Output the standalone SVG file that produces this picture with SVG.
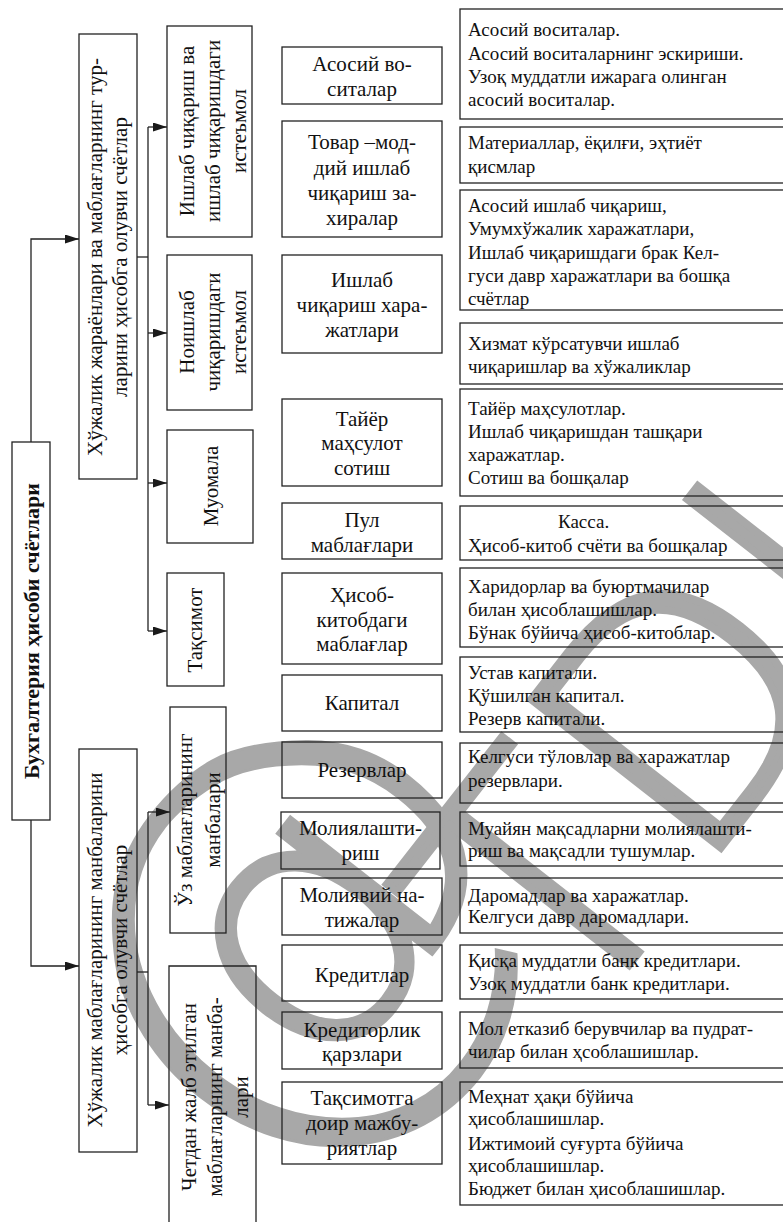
<svg xmlns="http://www.w3.org/2000/svg" width="783" height="1222" viewBox="0 0 783 1222">
<defs>
<marker id="ah" markerWidth="14" markerHeight="9" refX="14" refY="4.5" orient="auto" markerUnits="userSpaceOnUse"><path d="M0,0 L14,4.5 L0,9 z" fill="#1a1a1a"/></marker>
<style>
.b{fill:none;stroke:#222;stroke-width:1.3}
.c{fill:none;stroke:#222;stroke-width:1.3}
.m{font-family:"Liberation Serif","Times New Roman",serif;font-size:21px;fill:#111;text-anchor:middle}
.r{font-family:"Liberation Serif","Times New Roman",serif;font-size:19px;fill:#111}
.v{font-family:"Liberation Serif","Times New Roman",serif;font-size:21px;fill:#111;text-anchor:middle}
.root{font-family:"Liberation Serif","Times New Roman",serif;font-size:22px;font-weight:bold;fill:#111;text-anchor:middle}
.wm{font-family:"DejaVu Sans",sans-serif;font-weight:200;fill:#a8a8a8;stroke:#a8a8a8}
</style>
</defs>
<rect width="783" height="1222" fill="#fff"/>
<g id="watermark">
<text class="wm" font-size="470" stroke-width="3" transform="translate(264,1211) rotate(-52)">@</text>
<text class="wm" font-size="330" stroke-width="8" transform="translate(572,1038) rotate(-52)">TDI</text>
</g>

<g id="connectors">
<polyline class="c" points="31,442 31,239 79,239" marker-end="url(#ah)"/>
<polyline class="c" points="31,820 31,966 79,966" marker-end="url(#ah)"/>
<line class="c" x1="137" y1="257" x2="148" y2="257"/>
<line class="c" x1="148" y1="127" x2="148" y2="631"/>
<line class="c" x1="148" y1="127" x2="167" y2="127" marker-end="url(#ah)"/>
<line class="c" x1="148" y1="333" x2="167" y2="333" marker-end="url(#ah)"/>
<line class="c" x1="148" y1="483" x2="167" y2="483" marker-end="url(#ah)"/>
<line class="c" x1="148" y1="631" x2="167" y2="631" marker-end="url(#ah)"/>
<line class="c" x1="137" y1="972" x2="148" y2="972"/>
<line class="c" x1="148" y1="812" x2="148" y2="1105"/>
<line class="c" x1="148" y1="812" x2="170" y2="812" marker-end="url(#ah)"/>
<line class="c" x1="148" y1="1105" x2="169" y2="1105" marker-end="url(#ah)"/>
</g>

<g id="root"><rect class="b" x="12" y="442" width="38" height="378"/>
<text class="root" transform="translate(39,631) rotate(-90)">Бухгалтерия ҳисоби счётлари</text></g>

<g id="group1"><rect class="b" x="79" y="34" width="58" height="445"/>
<text class="v" transform="translate(102,257) rotate(-90)">Хўжалик жараёнлари ва маблағларнинг тур-</text>
<text class="v" transform="translate(127,257) rotate(-90)">ларини ҳисобга олувчи счётлар</text></g>

<g id="group2"><rect class="b" x="79" y="749" width="58" height="403"/>
<text class="v" transform="translate(102,950) rotate(-90)">Хўжалик маблағларининг манбаларини</text>
<text class="v" transform="translate(127,950) rotate(-90)">ҳисобга олувчи счётлар</text></g>

<g id="sub1"><rect class="b" x="167" y="26" width="85" height="211"/>
<text class="v" transform="translate(194,131) rotate(-90)">Ишлаб чиқариш ва</text>
<text class="v" transform="translate(220,131) rotate(-90)">ишлаб чиқаришдаги</text>
<text class="v" transform="translate(246,131) rotate(-90)">истеъмол</text></g>

<g id="sub2"><rect class="b" x="167" y="255" width="85" height="155"/>
<text class="v" transform="translate(194,332) rotate(-90)">Ноишлаб</text>
<text class="v" transform="translate(220,332) rotate(-90)">чиқаришдаги</text>
<text class="v" transform="translate(246,332) rotate(-90)">истеъмол</text></g>

<g id="sub3"><rect class="b" x="167" y="430" width="86" height="113"/>
<text class="v" transform="translate(218,486) rotate(-90)">Муомала</text></g>

<g id="sub4"><rect class="b" x="167" y="573" width="57" height="113"/>
<text class="v" transform="translate(202,630) rotate(-90)">Тақсимот</text></g>

<g id="sub5"><rect class="b" x="170" y="707" width="56" height="226"/>
<text class="v" transform="translate(192,820) rotate(-90)">Ўз маблағларининг</text>
<text class="v" transform="translate(220,820) rotate(-90)">манбалари</text></g>

<g id="sub6"><path class="b" d="M169,1230 V966 H256 V1230"/>
<text class="v" transform="translate(196,1097) rotate(-90)">Четдан жалб этилган</text>
<text class="v" transform="translate(222,1097) rotate(-90)">маблағларнинг манба-</text>
<text class="v" transform="translate(248,1097) rotate(-90)">лари</text></g>

<g id="m1"><rect class="b" x="282" y="47" width="160" height="57"/>
<text class="m" x="362" y="71">Асосий во-</text><text class="m" x="362" y="96">ситалар</text></g>
<g id="m2"><rect class="b" x="282" y="121" width="160" height="116"/>
<text class="m" x="362" y="149">Товар –мод-</text><text class="m" x="362" y="175">дий ишлаб</text><text class="m" x="362" y="200">чиқариш за-</text><text class="m" x="362" y="225">хиралар</text></g>
<g id="m3"><rect class="b" x="282" y="255" width="160" height="98"/>
<text class="m" x="362" y="287">Ишлаб</text><text class="m" x="362" y="312">чиқариш хара-</text><text class="m" x="362" y="337">жатлари</text></g>
<g id="m4"><rect class="b" x="282" y="399" width="160" height="87"/>
<text class="m" x="362" y="426">Тайёр</text><text class="m" x="362" y="450">маҳсулот</text><text class="m" x="362" y="475">сотиш</text></g>
<g id="m5"><rect class="b" x="282" y="503" width="160" height="56"/>
<text class="m" x="362" y="527">Пул</text><text class="m" x="362" y="552">маблағлари</text></g>
<g id="m6"><rect class="b" x="282" y="573" width="160" height="91"/>
<text class="m" x="362" y="602">Ҳисоб-</text><text class="m" x="362" y="627">китобдаги</text><text class="m" x="362" y="651">маблағлар</text></g>
<g id="m7"><rect class="b" x="282" y="675" width="160" height="56"/>
<text class="m" x="362" y="710">Капитал</text></g>
<g id="m8"><rect class="b" x="282" y="742" width="160" height="56"/>
<text class="m" x="362" y="777">Резервлар</text></g>
<g id="m9"><rect class="b" x="281" y="812" width="159" height="57"/>
<text class="m" x="360.5" y="835">Молиялашти-</text><text class="m" x="360.5" y="860">риш</text></g>
<g id="m10"><rect class="b" x="282" y="878" width="160" height="57"/>
<text class="m" x="362" y="902">Молиявий на-</text><text class="m" x="362" y="927">тижалар</text></g>
<g id="m11"><rect class="b" x="282" y="945" width="160" height="56"/>
<text class="m" x="362" y="982">Кредитлар</text></g>
<g id="m12"><rect class="b" x="282" y="1012" width="160" height="57"/>
<text class="m" x="362" y="1037">Кредиторлик</text><text class="m" x="362" y="1061">қарзлари</text></g>
<g id="m13"><rect class="b" x="282" y="1082" width="160" height="82"/>
<text class="m" x="362" y="1105">Тақсимотга</text><text class="m" x="362" y="1130">доир мажбу-</text><text class="m" x="362" y="1155">риятлар</text></g>

<g id="r1"><rect class="b" x="460" y="9" width="330" height="110"/>
<text class="r" x="468" y="36">Асосий воситалар.</text><text class="r" x="468" y="60">Асосий воситаларнинг эскириши.</text><text class="r" x="468" y="83">Узоқ муддатли ижарага олинган</text><text class="r" x="468" y="106">асосий воситалар.</text></g>
<g id="r2"><rect class="b" x="460" y="127" width="330" height="56"/>
<text class="r" x="468" y="149">Материаллар, ёқилғи, эҳтиёт</text><text class="r" x="468" y="173">қисмлар</text></g>
<g id="r3"><rect class="b" x="460" y="190" width="330" height="120"/>
<text class="r" x="468" y="212">Асосий ишлаб чиқариш,</text><text class="r" x="468" y="235">Умумхўжалик харажатлари,</text><text class="r" x="468" y="259">Ишлаб чиқаришдаги брак Кел-</text><text class="r" x="468" y="282">гуси давр харажатлари ва бошқа</text><text class="r" x="468" y="305">счётлар</text></g>
<g id="r4"><rect class="b" x="460" y="323" width="330" height="61"/>
<text class="r" x="468" y="350">Хизмат кўрсатувчи ишлаб</text><text class="r" x="468" y="373">чиқаришлар ва хўжаликлар</text></g>
<g id="r5"><rect class="b" x="460" y="389" width="330" height="107"/>
<text class="r" x="468" y="415">Тайёр маҳсулотлар.</text><text class="r" x="468" y="438">Ишлаб чиқаришдан ташқари</text><text class="r" x="468" y="461">харажатлар.</text><text class="r" x="468" y="484">Сотиш ва бошқалар</text></g>
<g id="r6"><rect class="b" x="460" y="506" width="330" height="54"/>
<text class="r" x="558" y="528">Касса.</text><text class="r" x="468" y="552">Ҳисоб-китоб счёти ва бошқалар</text></g>
<g id="r7"><rect class="b" x="460" y="568" width="330" height="79"/>
<text class="r" x="468" y="593">Харидорлар ва буюртмачилар</text><text class="r" x="468" y="616">билан ҳисоблашишлар.</text><text class="r" x="468" y="639">Бўнак бўйича ҳисоб-китоблар.</text></g>
<g id="r8"><rect class="b" x="460" y="657" width="330" height="75"/>
<text class="r" x="468" y="679">Устав капитали.</text><text class="r" x="468" y="702">Қўшилган капитал.</text><text class="r" x="468" y="725">Резерв капитали.</text></g>
<g id="r9"><rect class="b" x="460" y="743" width="330" height="60"/>
<text class="r" x="468" y="763">Келгуси тўловлар ва харажатлар</text><text class="r" x="468" y="787">резервлари.</text></g>
<g id="r10"><rect class="b" x="460" y="812" width="330" height="54"/>
<text class="r" x="468" y="835">Муайян мақсадларни молиялашти-</text><text class="r" x="468" y="857">риш ва мақсадли тушумлар.</text></g>
<g id="r11"><rect class="b" x="460" y="878" width="330" height="55"/>
<text class="r" x="468" y="902">Даромадлар ва харажатлар.</text><text class="r" x="468" y="923">Келгуси давр даромадлари.</text></g>
<g id="r12"><rect class="b" x="460" y="945" width="330" height="54"/>
<text class="r" x="468" y="967">Қисқа муддатли банк кредитлари.</text><text class="r" x="468" y="990">Узоқ муддатли банк кредитлари.</text></g>
<g id="r13"><rect class="b" x="460" y="1012" width="330" height="56"/>
<text class="r" x="468" y="1035">Мол етказиб берувчилар ва пудрат-</text><text class="r" x="468" y="1058">чилар билан ҳсоблашишлар.</text></g>
<g id="r14"><rect class="b" x="460" y="1082" width="330" height="123"/>
<text class="r" x="468" y="1103">Меҳнат ҳақи бўйича</text><text class="r" x="468" y="1125">ҳисоблашишлар.</text><text class="r" x="468" y="1150">Ижтимоий суғурта бўйича</text><text class="r" x="468" y="1172">ҳисоблашишлар.</text><text class="r" x="468" y="1195">Бюджет билан ҳисоблашишлар.</text></g>
</svg>
